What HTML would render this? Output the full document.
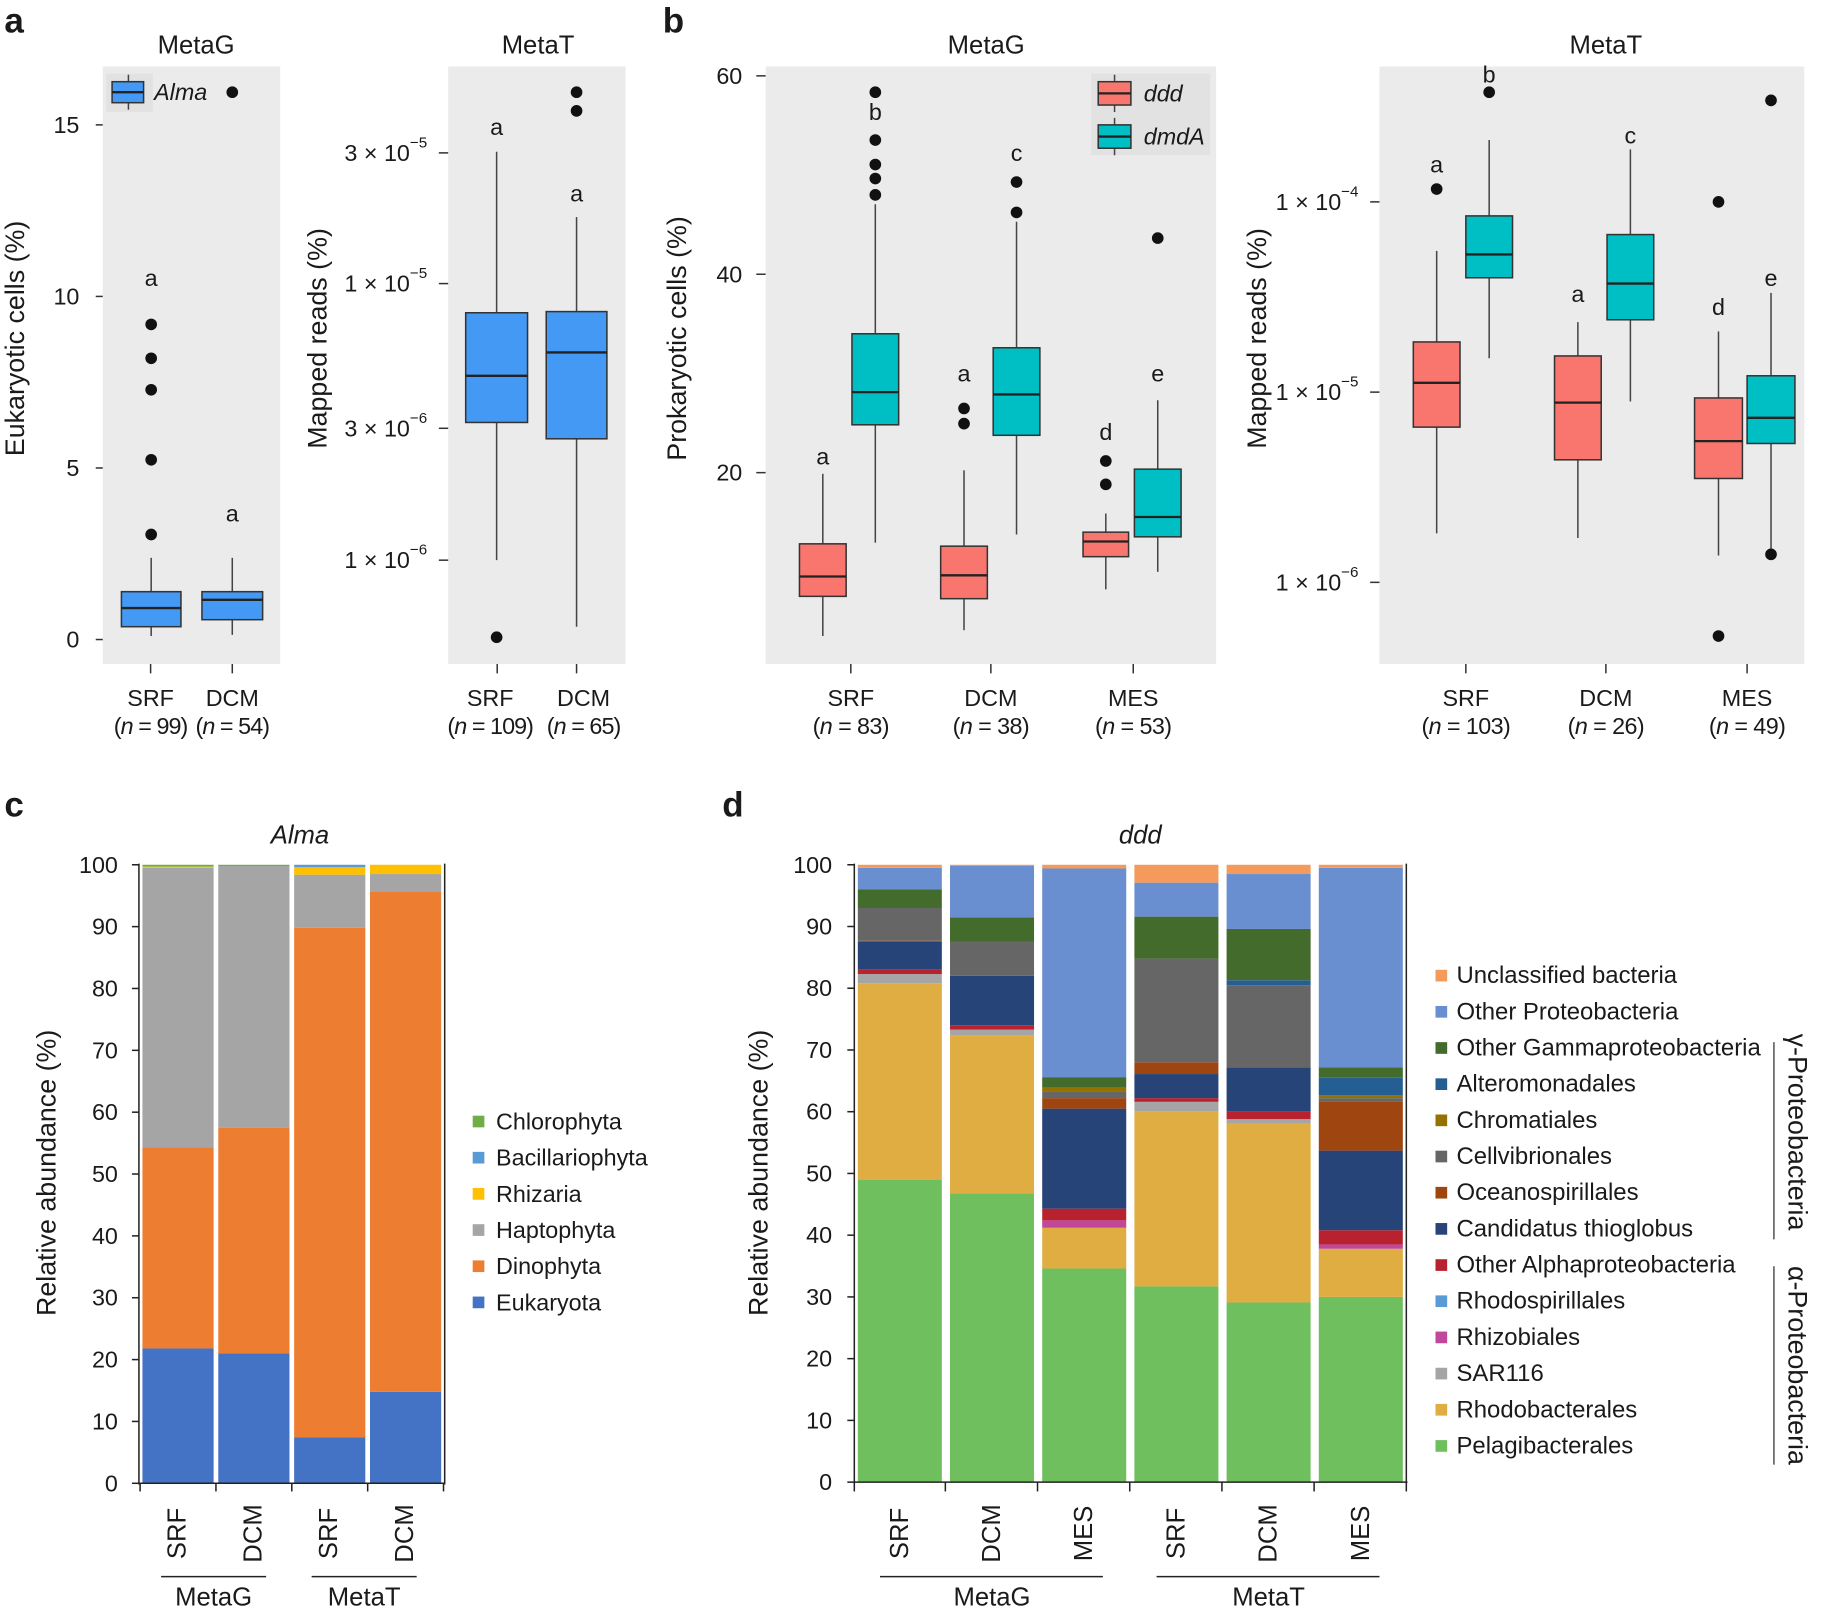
<!DOCTYPE html>
<html><head><meta charset="utf-8"><style>
html,body{margin:0;padding:0;background:#fff}
svg{display:block}
text{font-family:"Liberation Sans",sans-serif;fill:#1a1a1a}
</style></head><body>
<svg id="s" width="1830" height="1614" viewBox="0 0 1568 1383" xmlns="http://www.w3.org/2000/svg"></svg>
<script>
const S=document.getElementById('s');let h='';
function t(x,y,s,o){o=o||{};h+=`<text x="${x}" y="${y}" font-size="${o.fs||20}" text-anchor="${o.a||'middle'}" ${o.ls?`letter-spacing="${o.ls}"`:''} ${o.it?'font-style="italic"':''} ${o.b?'font-weight="bold"':''} ${o.tr?`transform="${o.tr}"`:''} dominant-baseline="central">${s}</text>`;}
function r(x,y,w,hh,f,st){h+=`<rect x="${x}" y="${y}" width="${w}" height="${hh}" fill="${f}" ${st?`stroke="${st}" stroke-width="1.3"`:''}/>`;}
function l(x1,y1,x2,y2,c,w){h+=`<line x1="${x1}" y1="${y1}" x2="${x2}" y2="${y2}" stroke="${c||'#333'}" stroke-width="${w||1.3}"/>`;}
function dot(x,y){h+=`<circle cx="${x}" cy="${y}" r="5" fill="#111"/>`;}
function box(x1,x2,q3,q1,med,wt,wb,col,outs,lab,ly){const c=(x1+x2)/2;l(c,wt,c,q3,'#444');l(c,q1,c,wb,'#444');r(x1,q3,x2-x1,q1-q3,col,'#333');l(x1,med,x2,med,'#222',2);(outs||[]).forEach(y=>dot(c,y));if(lab)t(c,ly,lab,{fs:20});}
function sup(x,y,m,e){h+=`<text x="${x}" y="${y}" font-size="20" text-anchor="end" dominant-baseline="central">${m} × 10<tspan dy="-9" font-size="13">${e}</tspan></text>`;}
const nl=(n)=>`(<tspan font-style="italic">n</tspan> = ${n})`;
// panel letters
t(12,18,'a',{fs:30,b:1});t(577,18,'b',{fs:30,b:1});t(12,690,'c',{fs:30,b:1});t(628,690,'d',{fs:30,b:1});
// panel a MetaG
r(88,57,152,512,'#ebebeb');t(168,39,'MetaG',{fs:22});
[[0,548],[5,401],[10,254],[15,107]].forEach(v=>{l(82,v[1],88,v[1]);t(68,v[1],v[0],{a:'end',fs:20});});
box(104,155,507,537,521,478,545,'#4499f5',[458,394,334,307,278],'a',238);
box(173,225,507,531,514,478,544,'#4499f5',[79],'a',440);
r(91,63,40,33,'#e2e2e2');l(110,64,110,94,'#444');r(96,70,27,18,'#4499f5','#333');l(96,79,123,79,'#222',2);t(132,79,'Alma',{a:'start',it:1,fs:20});
t(13,290,'Eukaryotic cells (%)',{fs:23,tr:'rotate(-90 13 290)'});
[[129,'SRF',99],[199,'DCM',54]].forEach(v=>{l(v[0],569,v[0],577);t(v[0],598,v[1],{fs:20});t(v[0],622,nl(v[2]),{fs:20,ls:-0.8});});
// panel a MetaT
r(384,57,152,512,'#ebebeb');t(461,39,'MetaT',{fs:22});
[['3','−5',131],['1','−5',243],['3','−6',367],['1','−6',480]].forEach(v=>{l(376,v[2],384,v[2]);sup(366,v[2],v[0],v[1]);});
box(399,452,268,362,322,130,480,'#4499f5',[546],'a',109);
box(468,520,267,376,302,186,537,'#4499f5',[79,95],'a',166);
t(272,290,'Mapped reads (%)',{fs:23,tr:'rotate(-90 272 290)'});
[[420,'SRF',109],[500,'DCM',65]].forEach((v,i)=>{const tx=[426,494][i];l(tx,569,tx,577);t(v[0],598,v[1],{fs:20});t(v[0],622,nl(v[2]),{fs:20,ls:-0.8});});
// panel b MetaG
const R='#f8766d',C='#00bfc4';
r(656,57,386,512,'#ebebeb');t(845,39,'MetaG',{fs:22});
[[60,65],[40,235],[20,405]].forEach(v=>{l(648,v[1],656,v[1]);t(636,v[1],v[0],{a:'end',fs:20});});
box(685,725,466,511,494,406,545,R,[],'a',391);
box(730,770,286,364,336,175,465,C,[79,120,141,153,167],'b',96);
box(806,846,468,513,493,403,540,R,[363,350],'a',320);
box(851,891,298,373,338,190,458,C,[182,156],'c',131);
box(928,967,456,477,464,440,505,R,[415,395],'d',370);
box(972,1012,402,460,443,343,490,C,[204],'e',320);
r(935,63,102,70,'#e2e2e2');
l(955,64,955,96,'#444');r(941,70,28,20,R,'#333');l(941,80,969,80,'#222',2);t(980,80,'ddd',{a:'start',it:1,fs:20});
l(955,101,955,133,'#444');r(941,107,28,20,C,'#333');l(941,117,969,117,'#222',2);t(980,117,'dmdA',{a:'start',it:1,fs:20});
t(580,290,'Prokaryotic cells (%)',{fs:23,tr:'rotate(-90 580 290)'});
[[729,'SRF',83],[849,'DCM',38],[971,'MES',53]].forEach(v=>{l(v[0],569,v[0],577);t(v[0],598,v[1],{fs:20});t(v[0],622,nl(v[2]),{fs:20,ls:-0.5});});
// panel b MetaT
r(1182,57,364,512,'#ebebeb');t(1376,39,'MetaT',{fs:22});
[['1','−4',173],['1','−5',336],['1','−6',499]].forEach(v=>{l(1174,v[2],1182,v[2]);sup(1164,v[2],v[0],v[1]);});
box(1211,1251,293,366,328,215,457,R,[162],'a',141);
box(1256,1296,185,238,218,120,307,C,[79],'b',64);
box(1332,1372,305,394,345,276,461,R,[],'a',252);
box(1377,1417,201,274,243,128,344,C,[],'c',116);
box(1452,1493,341,410,378,284,476,R,[173,545],'d',263);
box(1497,1538,322,380,358,251,475,C,[86,475],'e',238);
t(1077,290,'Mapped reads (%)',{fs:23,tr:'rotate(-90 1077 290)'});
[[1256,'SRF',103],[1376,'DCM',26],[1497,'MES',49]].forEach(v=>{l(v[0],569,v[0],577);t(v[0],598,v[1],{fs:20});t(v[0],622,nl(v[2]),{fs:20,ls:-0.5});});
// panel c
function stack(x,w,y0,sc,segs){segs.forEach(s=>{r(x,y0-s[1]*sc,w,(s[1]-s[0])*sc,s[2]);});}
const Eu='#4472c4',Di='#ed7d31',Ha='#a5a5a5',Rz='#ffc000',Ba='#5b9bd5',Ch='#70ad47';
const cy0=1271,cs=5.3;
stack(122,61,cy0,cs,[[0,21.8,Eu],[21.8,54.3,Di],[54.3,99.5,Ha],[99.5,99.7,Rz],[99.7,100,Ch]]);
stack(187,61,cy0,cs,[[0,21,Eu],[21,57.5,Di],[57.5,99.8,Ha],[99.8,100,Ch]]);
stack(252,61,cy0,cs,[[0,7.4,Eu],[7.4,89.8,Di],[89.8,98.4,Ha],[98.4,99.6,Rz],[99.6,100,Ba]]);
stack(317,61,cy0,cs,[[0,14.8,Eu],[14.8,95.6,Di],[95.6,98.5,Ha],[98.5,100,Rz]]);
l(119,740,119,1272,'#222');l(119,1271,381,1271,'#222');l(381,740,381,1272,'#222');
for(let i=0;i<=10;i++){const y=cy0-i*10*cs;l(113,y,119,y,'#222');t(101,y,i*10,{a:'end',fs:20});}
[120,185,250,315,380].forEach(x=>l(x,1271,x,1278,'#222'));
[[152,'SRF'],[217,'DCM'],[282,'SRF'],[347,'DCM']].forEach(v=>t(v[0],1314,v[1],{fs:22,tr:`rotate(-90 ${v[0]} 1314)`}));
l(138,1351,228,1351,'#222');l(267,1351,357,1351,'#222');t(183,1369,'MetaG',{fs:22});t(312,1369,'MetaT',{fs:22});
t(257,716,'Alma',{it:1,fs:22});
t(40,1005,'Relative abundance (%)',{fs:23,tr:'rotate(-90 40 1005)'});
[['Chlorophyta',Ch],['Bacillariophyta',Ba],['Rhizaria',Rz],['Haptophyta',Ha],['Dinophyta',Di],['Eukaryota',Eu]].forEach((v,i)=>{const y=961+i*31;r(405,y-5,10,10,v[1]);t(425,y,v[0],{a:'start',fs:20});});
// panel d
const K={U:'#f39a5c',OP:'#6a8fd0',OG:'#426b2c',Al:'#255e92',Chr:'#957200',Ce:'#666666',Oc:'#9e4510',Ca:'#264478',OA:'#b8222e',Rs:'#5a9bd5',Rz:'#c0479a',SA:'#a5a5a5',Rb:'#dfad42',Pe:'#70bf5f'};
function seg(list){let p=0;return list.map(v=>{const s=[p,v[1],K[v[0]]];p=v[1];return s;});}
const dy0=1270,ds=5.29;
const D=[
 [['Pe',49],['Rb',80.8],['SA',82.3],['OA',83],['Ca',87.5],['Oc',87.7],['Ce',93],['OG',96],['OP',99.5],['U',100]],
 [['Pe',46.8],['Rb',72.3],['SA',73.3],['OA',74],['Ca',82],['Ce',87.5],['OG',91.5],['OP',99.8],['U',100]],
 [['Pe',34.6],['Rb',41.2],['Rz',42.4],['OA',44.3],['Ca',60.5],['Oc',62.2],['Ce',63.2],['Chr',63.9],['OG',65.6],['OP',99.4],['U',100]],
 [['Pe',31.7],['Rb',60],['SA',61.6],['OA',62.2],['Ca',66.1],['Oc',68],['Ce',84.8],['OG',91.6],['OP',97.1],['U',100]],
 [['Pe',29.1],['Rb',58.1],['SA',58.8],['OA',60],['Ca',67.2],['Ce',80.5],['Al',81.3],['OG',89.6],['OP',98.5],['U',100]],
 [['Pe',30],['Rb',37.8],['Rz',38.5],['OA',40.8],['Ca',53.7],['Oc',61.7],['Ce',62.2],['Chr',62.7],['Al',65.5],['OG',67.2],['OP',99.5],['U',100]]];
const bx=[735,814,893,972,1051,1130];
D.forEach((d,i)=>stack(bx[i],72,dy0,ds,seg(d)));
l(732,740,732,1271,'#222');l(732,1270,1206,1270,'#222');l(1205,740,1205,1271,'#222');
for(let i=0;i<=10;i++){const y=dy0-i*10*ds;l(726,y,732,y,'#222');t(713,y,i*10,{a:'end',fs:20});}
[732,810,889,968,1047,1126,1205].forEach(x=>l(x,1270,x,1278,'#222'));
['SRF','DCM','MES','SRF','DCM','MES'].forEach((s,i)=>{const x=bx[i]+36;t(x,1314,s,{fs:22,tr:`rotate(-90 ${x} 1314)`});});
l(754,1351,945,1351,'#222');l(991,1351,1182,1351,'#222');t(850,1369,'MetaG',{fs:22});t(1087,1369,'MetaT',{fs:22});
t(977,716,'ddd',{it:1,fs:22});
t(650,1005,'Relative abundance (%)',{fs:23,tr:'rotate(-90 650 1005)'});
[['Unclassified bacteria','U'],['Other Proteobacteria','OP'],['Other Gammaproteobacteria','OG'],['Alteromonadales','Al'],['Chromatiales','Chr'],['Cellvibrionales','Ce'],['Oceanospirillales','Oc'],['Candidatus thioglobus','Ca'],['Other Alphaproteobacteria','OA'],['Rhodospirillales','Rs'],['Rhizobiales','Rz'],['SAR116','SA'],['Rhodobacterales','Rb'],['Pelagibacterales','Pe']].forEach((v,i)=>{const y=836+i*31;r(1230,y-5,10,10,K[v[1]]);t(1248,y,v[0],{a:'start',fs:20.5});});
l(1520,893,1520,1062,'#222',1);l(1520,1085,1520,1255,'#222',1);
t(1540,970,'γ-Proteobacteria',{fs:23,tr:'rotate(90 1540 970)'});
t(1540,1170,'α-Proteobacteria',{fs:23,tr:'rotate(90 1540 1170)'});
S.innerHTML=h;
</script>
</body></html>
